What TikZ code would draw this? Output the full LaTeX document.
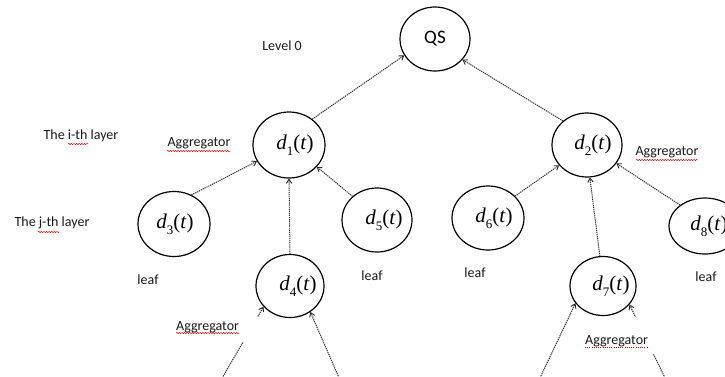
\documentclass[tikz,border=0pt]{standalone}
\usepackage{fontspec}
\setmainfont{Carlito}
\newfontfamily\tnrfont{Liberation Serif}
\usetikzlibrary{arrows.meta,decorations.pathmorphing,shapes.geometric}
\newcommand{\dlab}[2][6pt]{\hspace*{#1}{\tnrfont\fontsize{21}{24}\selectfont\textit{d}\raisebox{-0.28em}{\fontsize{13}{13}\selectfont #2}(\textit{t})}\hspace*{-#1}}
\begin{document}
\begin{tikzpicture}[x=1pt,y=-1pt,
  txt/.style={font=\fontsize{14}{16}\selectfont, inner sep=0pt, text=black!90},
  nd/.style={draw, ellipse, line width=1.2pt, inner sep=0pt},
  link/.style={draw=black!85, line width=1pt, dash pattern=on 1.2pt off 0.9pt,
    -{Straight Barb[length=4pt,width=5.5pt,line width=0.9pt]}},
  spell/.style={draw=red!85!black, line width=0.45pt, decorate,
    decoration={snake, amplitude=0.7pt, segment length=2.6pt}},
  agg/.style={txt, fill=white, align=left}]
\useasboundingbox (0,0) rectangle (725,376);
\fill[white] (0,0) rectangle (725,376);
\clip (0,0) rectangle (725,376);

% nodes
\node[nd, minimum width=70, minimum height=64, font=\fontsize{19}{22}\selectfont] (QS) at (435,39) {QS};
\node[nd, minimum width=72, minimum height=66] (d1) at (289,145) {\dlab{1}};
\node[nd, minimum width=70, minimum height=64] (d2) at (587,145) {\dlab{2}};
\node[nd, minimum width=72, minimum height=65] (d3) at (174,224) {\dlab[1pt]{3}};
\node[nd, minimum width=68, minimum height=63] (d4) at (290,286) {\dlab[8pt]{4}};
\node[nd, minimum width=70, minimum height=64] (d5) at (377,220) {\dlab[7pt]{5}};
\node[nd, minimum width=72, minimum height=64] (d6) at (488,218) {\dlab{6}};
\node[nd, minimum width=66, minimum height=59] (d7) at (603,286) {\dlab[8pt]{7}};
\node[nd, minimum width=72, minimum height=56] (d8) at (705,226) {\dlab[4pt]{8}};

% free ends
\coordinate (i4a) at (221,380);
\coordinate (i4b) at (340,380);
\coordinate (i7a) at (539,380);
\coordinate (i7b) at (666,380);

% connectors
\draw[link] (d1.48) -- (QS.208);
\draw[link] (d2.135) -- (QS.323);
\draw[link] (d3.59) -- (d1.207);
\draw[link] (d4.90) -- (d1.270);
\draw[link] (d5.136) -- (d1.322);
\draw[link] (d6.39) -- (d2.216);
\draw[link] (d7.96) -- (d2.275);
\draw[link] (d8.140) -- (d2.328);
\draw[link] (i4a) -- (d4.218);
\draw[link] (i4b) -- (d4.308);
\draw[link] (i7a) -- (d7.212);
\draw[link] (i7b) -- (d7.325);

% labels
\node[txt] (lvl) at (282,46) {Level 0};
\node[txt] (ilayer) at (81,136) {The i-th layer};
\node[txt] (jlayer) at (52,223) {The j-th layer};
\node[txt] (agg1) at (199,143) {Aggregator};
\node[txt] (agg2) at (667,152) {Aggregator};
\node[agg, anchor=base west, text width=83pt, text height=13pt, text depth=12pt] (agg4) at (176,330) {Aggregator};
\node[agg, anchor=base west, text width=70pt, text height=27pt, text depth=10pt] (agg7) at (585,344) {Aggregator};
\node[txt] (leaf3) at (148,280) {leaf};
\node[txt] (leaf5) at (372,276) {leaf};
\node[txt] (leaf6) at (475,273) {leaf};
\node[txt] (leaf8) at (706,277) {leaf};

% spell-check underlines
\draw[spell] (68,144) -- (88,144);
\draw[spell] (38,232) -- (60,232);
\draw[spell] (167,151) -- (231,151);
\draw[spell] (636,160) -- (698,160);
\draw[spell] (176,333) -- (240,333);
\draw[red!85!black, line width=0.5pt, dash pattern=on 1pt off 1.2pt] (585,347) -- (648,347);
\end{tikzpicture}
\end{document}
